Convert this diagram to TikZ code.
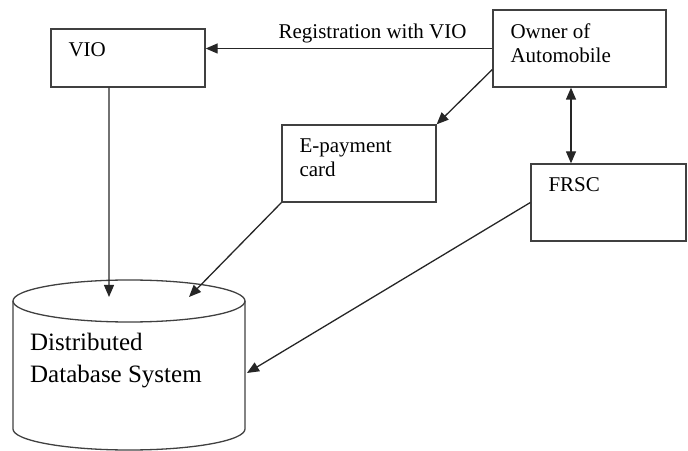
\documentclass[tikz,border=0pt]{standalone}
\usepackage{fontspec}
\setmainfont{Liberation Serif}
\usetikzlibrary{arrows.meta}
\begin{document}
\begin{tikzpicture}[x=1bp,y=-1bp,
    >={Triangle[length=12bp,width=10bp]},
    box/.style={draw=black!75,line width=1.3bp,inner sep=0pt},
    txt/.style={anchor=north west,align=left,inner sep=0pt,xshift=18bp,yshift=-14bp,font=\fontsize{21bp}{24bp}\selectfont},
    link/.style={draw=black!85,line width=1.3bp,->},
    dbline/.style={draw=black!75,line width=1.3bp}]
  \useasboundingbox (0,0) rectangle (688,451);
  \node[box,minimum width=154bp,minimum height=58bp] (vio) at (128,58) {};
  \node[txt] (violbl) at (vio.north west) {VIO};
  \node[box,minimum width=173bp,minimum height=77bp] (owner) at (579.5,48.5) {};
  \node[txt] (ownerlbl) at (owner.north west) {Owner of\\Automobile};
  \node[box,minimum width=154bp,minimum height=77bp] (epay) at (359,163.5) {};
  \node[txt] (epaylbl) at (epay.north west) {E-payment\\card};
  \node[box,minimum width=155bp,minimum height=77bp] (frsc) at (608.5,202.5) {};
  \node[txt] (frsclbl) at (frsc.north west) {FRSC};
  \draw[dbline] (13,301) -- (13,429) arc[start angle=180,end angle=0,x radius=116,y radius=21] -- (245,301);
  \draw[dbline] (129,301) ellipse[x radius=116,y radius=21];
  \node[anchor=north west,align=left,inner sep=0pt,font=\fontsize{25bp}{32bp}\selectfont] (db) at (30,333) {Distributed\\Database System};
  \coordinate (dbin1) at (109,297);
  \coordinate (dbin2) at (189,297);
  \coordinate (dbin3) at (247,373);
  \draw[link] (owner.west) -- (vio.east |- owner.west)
    node[pos=0.418,above,inner sep=5bp,font=\fontsize{21bp}{24bp}\selectfont] (reglbl) {Registration with VIO};
  \draw[link] ([yshift=-21bp]owner.west) -- (epay.north east);
  \draw[link,<->] ([xshift=-8.5bp]owner.south) -- ([xshift=-8.5bp]owner.south |- frsc.north);
  \draw[link] ([xshift=-19bp]vio.south) -- (dbin1);
  \draw[link] (epay.south west) -- (dbin2);
  \draw[link] (frsc.west) -- (dbin3);
\end{tikzpicture}
\end{document}
